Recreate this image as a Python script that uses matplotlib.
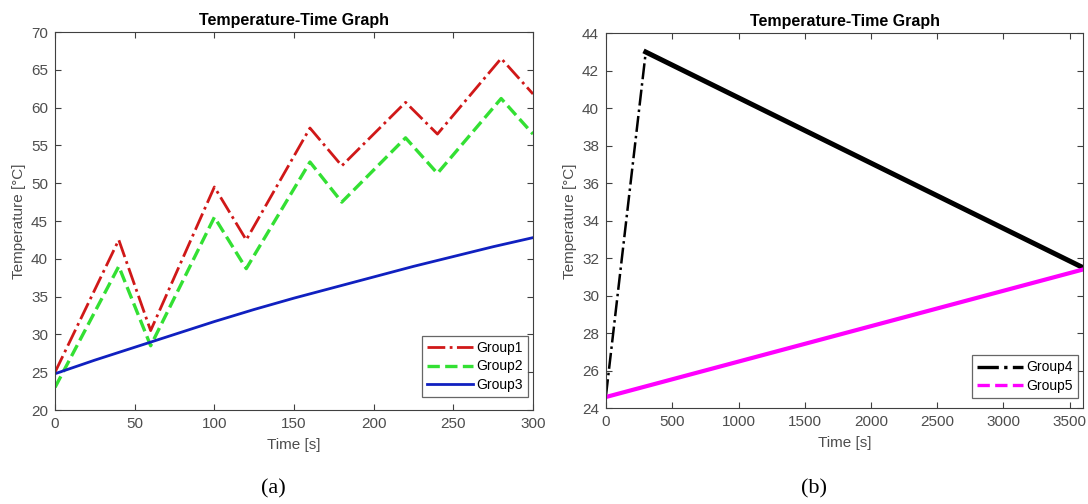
import matplotlib
matplotlib.use("Agg")
import matplotlib.pyplot as plt
from matplotlib.lines import Line2D

plt.rcParams['font.family'] = ['Liberation Sans', 'DejaVu Sans']

# Panel (a): heating/cooling cycles over 300 s
t_a = [0, 40, 60, 100, 120, 160, 180, 220, 240, 280, 300]
group1 = [25.0, 42.5, 30.5, 49.5, 42.5, 57.3, 52.3, 60.7, 56.5, 66.5, 61.8]
group2 = [23.0, 39.0, 28.5, 45.5, 38.7, 52.8, 47.5, 56.0, 51.3, 61.2, 56.5]
t_a3 = [0, 25, 50, 75, 100, 125, 150, 175, 200, 225, 250, 275, 300]
group3 = [24.8, 26.6, 28.3, 30.0, 31.7, 33.3, 34.8, 36.2, 37.6, 39.0, 40.3, 41.6, 42.8]

# Panel (b): one-hour run
t_b4 = [0, 300, 3600]
group4 = [24.7, 43.0, 31.5]
t_b5 = [0, 3600]
group5 = [24.6, 31.4]

AX_COL = '#404040'
TXT_COL = '#4d4d4d'

fig = plt.figure(figsize=(10.88, 5.04), dpi=100)
ax1 = fig.add_axes([0.0506, 0.1865, 0.4393, 0.75])
ax2 = fig.add_axes([0.557, 0.190, 0.4384, 0.744])


def style(ax, xlim, ylim, xticks, yticks):
    ax.set_xlim(*xlim)
    ax.set_ylim(*ylim)
    ax.set_xticks(xticks)
    ax.set_yticks(yticks)
    ax.tick_params(direction='in', top=True, right=True, length=4, width=0.8,
                   colors=AX_COL, labelcolor=TXT_COL, labelsize=11, pad=5)
    for s in ax.spines.values():
        s.set_color(AX_COL)
        s.set_linewidth(0.8)
    ax.set_title('Temperature-Time Graph', fontsize=11.5, fontweight='bold', pad=5)
    ax.set_xlabel('Time [s]', fontsize=11, color=TXT_COL, labelpad=5)
    ax.set_ylabel('Temperature [°C]', fontsize=11, color=TXT_COL, labelpad=4)


def add_legend(ax, handles, labels, anchor):
    leg = ax.legend(handles, labels, loc='lower right', bbox_to_anchor=anchor,
                    borderaxespad=0, fontsize=10, frameon=True, fancybox=False,
                    edgecolor=AX_COL, handlelength=3.3, labelspacing=0.3,
                    handletextpad=0.2, borderpad=0.4)
    leg.get_frame().set_linewidth(0.9)
    return leg


h1, = ax1.plot(t_a, group1, color='#d01818', ls='-.', lw=2.0)
h2, = ax1.plot(t_a, group2, color='#33e033', ls='--', lw=2.4)
h3, = ax1.plot(t_a3, group3, color='#1020c0', ls='-', lw=2.0)
style(ax1, (0, 300), (20, 70), range(0, 301, 50), range(20, 71, 5))
add_legend(ax1, [h1, h2, h3], ['Group1', 'Group2', 'Group3'], (0.9895, 0.034))

# Ascending leg drawn dash-dot, the long cooling leg drawn heavy
ax2.plot(t_b4[:2], group4[:2], color='black', ls='-.', lw=1.8)
ax2.plot(t_b4[1:], group4[1:], color='black', ls='-', lw=3.6)
ax2.plot(t_b5, group5, color='#ff00ff', ls='-', lw=3.0)
style(ax2, (0, 3600), (24, 44), range(0, 3501, 500), range(24, 45, 2))
handles = [Line2D([], [], color='black', ls='-.', lw=2.4),
           Line2D([], [], color='#ff00ff', ls='--', lw=2.4)]
add_legend(ax2, handles, ['Group4', 'Group5'], (0.9895, 0.027))

fig.text(273 / 1088, 1 - 489 / 504, '(a)', fontsize=16, ha='center', va='center',
         family=['Liberation Serif', 'DejaVu Serif'])
fig.text(814 / 1088, 1 - 489 / 504, '(b)', fontsize=16, ha='center', va='center',
         family=['Liberation Serif', 'DejaVu Serif'])

fig.savefig('out.png', dpi=100, facecolor='white')
